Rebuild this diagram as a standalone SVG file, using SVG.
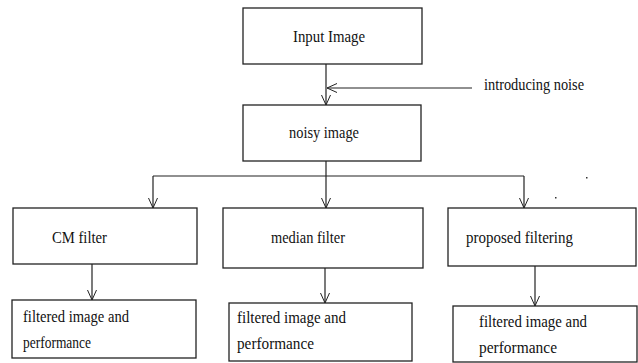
<svg xmlns="http://www.w3.org/2000/svg" width="638" height="363" viewBox="0 0 638 363">
<style>
.box{fill:#fff;stroke:#222;stroke-width:1.3}
.t{font-family:"Liberation Serif","Times New Roman",serif;font-size:16px;fill:#111}
.c{fill:none;stroke:#222;stroke-width:1.2}
</style>
<defs>
<marker id="a" viewBox="0 0 10 10" refX="10" refY="5" markerWidth="10" markerHeight="10" markerUnits="userSpaceOnUse" orient="auto">
<path d="M0,0.5 L10,5 L0,9.5" fill="none" stroke="#222" stroke-width="1"/>
</marker>
</defs>
<rect width="638" height="363" fill="#fff"/>
<g id="connectors">
<path class="c" d="M326,64 V105" marker-end="url(#a)"/>
<path class="c" d="M472,88 H327" marker-end="url(#a)"/>
<path class="c" d="M326,161 V208" marker-end="url(#a)"/>
<path class="c" d="M153,176 H524"/>
<path class="c" d="M153,176 V208" marker-end="url(#a)"/>
<path class="c" d="M524,176 V208" marker-end="url(#a)"/>
<path class="c" d="M92,264 V300" marker-end="url(#a)"/>
<path class="c" d="M325,268 V303" marker-end="url(#a)"/>
<path class="c" d="M535,266 V306" marker-end="url(#a)"/>
</g>
<g id="input">
<rect class="box" x="243" y="8" width="179" height="56"/>
<text class="t" x="293" y="42" textLength="72" lengthAdjust="spacingAndGlyphs">Input Image</text>
</g>
<g id="noise-label">
<text class="t" x="484" y="90" textLength="100" lengthAdjust="spacingAndGlyphs">introducing noise</text>
</g>
<g id="noisy">
<rect class="box" x="243" y="105" width="178" height="56"/>
<text class="t" x="289" y="138" textLength="70" lengthAdjust="spacingAndGlyphs">noisy image</text>
</g>
<g id="cm">
<rect class="box" x="13" y="208" width="184" height="56"/>
<text class="t" x="52" y="243" textLength="55" lengthAdjust="spacingAndGlyphs">CM filter</text>
</g>
<g id="median">
<rect class="box" x="223" y="208" width="200" height="60"/>
<text class="t" x="271" y="243" textLength="74" lengthAdjust="spacingAndGlyphs">median filter</text>
</g>
<g id="proposed">
<rect class="box" x="448" y="208" width="188" height="58"/>
<text class="t" x="466" y="243" textLength="107" lengthAdjust="spacingAndGlyphs">proposed filtering</text>
</g>
<g id="out1">
<rect class="box" x="12" y="300" width="184" height="58"/>
<text class="t" x="23" y="322" textLength="106" lengthAdjust="spacingAndGlyphs">filtered image and</text>
<text class="t" x="23" y="348" textLength="68" lengthAdjust="spacingAndGlyphs">performance</text>
</g>
<g id="out2">
<rect class="box" x="229" y="303" width="183" height="58"/>
<text class="t" x="237" y="323" textLength="109" lengthAdjust="spacingAndGlyphs">filtered image and</text>
<text class="t" x="237" y="349" textLength="77" lengthAdjust="spacingAndGlyphs">performance</text>
</g>
<g id="out3">
<rect class="box" x="453" y="306" width="184" height="56"/>
<text class="t" x="479" y="327" textLength="108" lengthAdjust="spacingAndGlyphs">filtered image and</text>
<text class="t" x="479" y="353" textLength="78" lengthAdjust="spacingAndGlyphs">performance</text>
</g>
<rect x="586" y="177" width="1.5" height="1.5" fill="#333"/>
<rect x="555" y="197" width="1.5" height="1.5" fill="#333"/>
</svg>
